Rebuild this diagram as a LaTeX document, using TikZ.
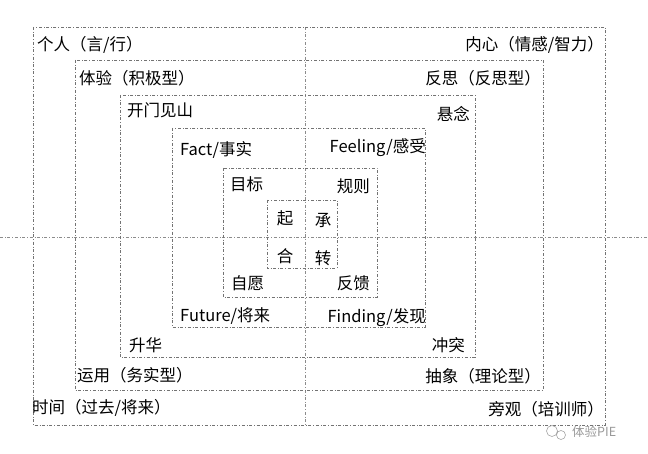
\documentclass[tikz,border=0pt]{standalone}
\usepackage{fontspec}
\setmainfont{Noto Sans CJK SC}
\begin{document}
\begin{tikzpicture}[x=1pt,y=-1pt,
  frame/.style={draw=black!55,dash dot,line width=0.6pt},
  axis/.style={draw=black!45,dash dot,line width=0.6pt},
  lbl/.style={inner sep=0pt,font=\fontsize{16.5}{17}\selectfont,text=black},
  wm/.style={inner sep=0pt,font=\fontsize{12.5}{13}\selectfont,text=black!40}]
\useasboundingbox[fill=white] (0,0) rectangle (648,454);
\coordinate (t) at (305,27); \coordinate (b) at (305,425);
\coordinate (l) at (0,237); \coordinate (r) at (648,237);
\draw[axis] (t) -- (b);
\draw[axis] (l) -- (r);
\draw[frame] (33,27) rectangle (605,425);
\draw[frame] (75,60) rectangle (543,390);
\draw[frame] (120,95) rectangle (475,357);
\draw[frame] (172,128) rectangle (425,327);
\draw[frame] (223,168) rectangle (377,297);
\draw[frame] (267,200) rectangle (337,268);
\node[lbl,anchor=west] (a1) at (37,45) {个人（言/行）};
\node[lbl,anchor=east] (a2) at (604,45) {内心（情感/智力）};
\node[lbl,anchor=west] (b1) at (79,78) {体验（积极型）};
\node[lbl,anchor=east] (b2) at (541,78) {反思（反思型）};
\node[lbl,anchor=west] (c1) at (127,110) {开门见山};
\node[lbl,anchor=east] (c2) at (470,114) {悬念};
\node[lbl,anchor=west] (d1) at (180,150) {Fact/事实};
\node[lbl,anchor=east] (d2) at (426,148) {Feeling/感受};
\node[lbl,anchor=west] (e1) at (230,184) {目标};
\node[lbl,anchor=east] (e2) at (370,186) {规则};
\node[lbl] (f1) at (285,218) {起};
\node[lbl] (f2) at (323,220) {承};
\node[lbl] (f3) at (285,256) {合};
\node[lbl] (f4) at (323,258) {转};
\node[lbl,anchor=west] (g1) at (231,283) {自愿};
\node[lbl,anchor=east] (g2) at (370,283) {反馈};
\node[lbl,anchor=west] (h1) at (180,316) {Future/将来};
\node[lbl,anchor=east] (h2) at (426,318) {Finding/发现};
\node[lbl,anchor=west] (i1) at (129,345) {升华};
\node[lbl,anchor=east] (i2) at (465,345) {冲突};
\node[lbl,anchor=west] (j1) at (77,375) {运用（务实型）};
\node[lbl,anchor=east] (j2) at (541,376) {抽象（理论型）};
\node[lbl,anchor=west] (k1) at (32,408) {时间（过去/将来）};
\node[lbl,anchor=east] (k2) at (604,409) {旁观（培训师）};
\draw[black!35,line width=0.6pt] (552,431) circle (5.5) (561,435) circle (4.5);
\node[wm,anchor=west] (w) at (572,432) {体验PIE};
\end{tikzpicture}
\end{document}
